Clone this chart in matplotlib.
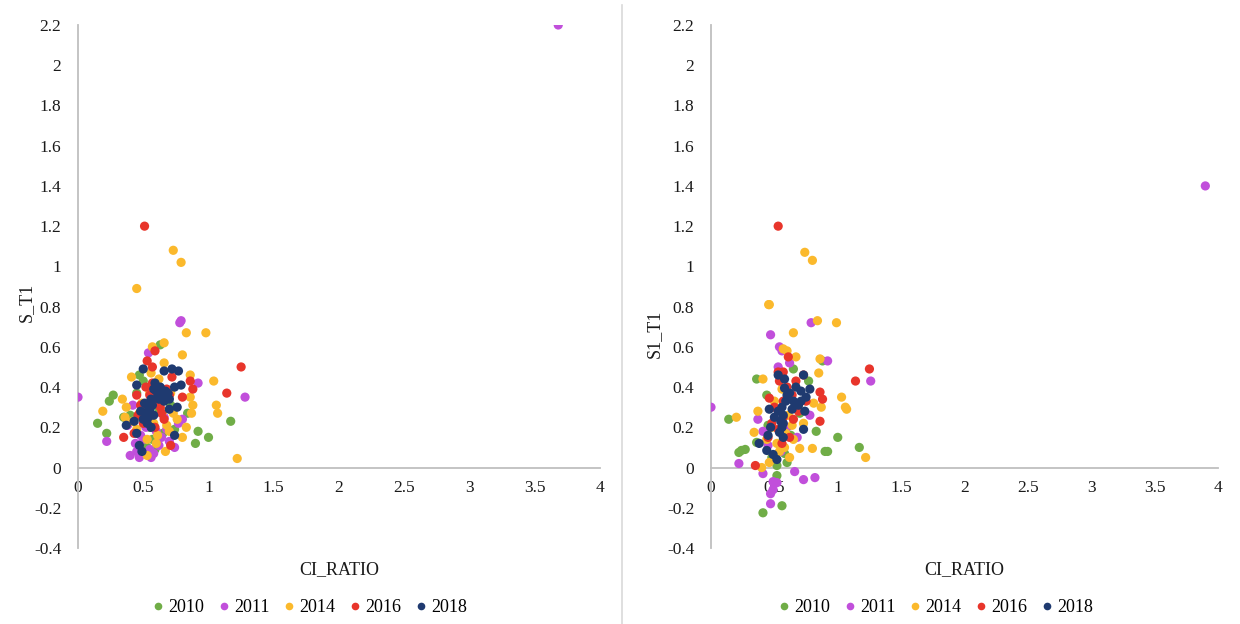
import matplotlib.pyplot as plt
from matplotlib.lines import Line2D

plt.rcParams['font.family'] = ['Liberation Serif', 'DejaVu Serif']

years = ['2010', '2011', '2014', '2016', '2018']
colors = ['#70AD47', '#C14FDB', '#FBB92C', '#E8352B', '#1F3A70']

# --- left panel: CI_RATIO vs S_T1 ---
l_x_2010 = [0.15, 0.22, 0.24, 0.27, 0.92, 0.90, 1.00, 1.17, 0.63, 0.47, 0.35, 0.59, 0.51, 0.84, 0.74, 0.45,
            0.55, 0.62, 0.40, 0.68, 0.57, 0.50, 0.43, 0.65, 0.53, 0.71]
l_y_2010 = [0.22, 0.17, 0.33, 0.36, 0.18, 0.12, 0.15, 0.23, 0.61, 0.46, 0.25, 0.09, 0.12, 0.27, 0.19, 0.37,
            0.20, 0.29, 0.26, 0.35, 0.14, 0.43, 0.24, 0.17, 0.10, 0.31]
l_x_2011 = [0.0, 0.79, 0.92, 1.28, 0.22, 0.40, 0.47, 0.56, 0.80, 0.77, 0.54, 0.74, 0.62, 0.38, 0.42, 3.68,
            0.78, 0.50, 0.60, 0.45, 0.66, 0.52, 0.70, 0.48, 0.58, 0.64, 0.44, 0.55, 0.68]
l_y_2011 = [0.35, 0.73, 0.42, 0.35, 0.13, 0.06, 0.05, 0.05, 0.24, 0.22, 0.57, 0.10, 0.11, 0.21, 0.31, 2.20,
            0.72, 0.14, 0.18, 0.08, 0.25, 0.20, 0.13, 0.16, 0.07, 0.15, 0.12, 0.09, 0.19]
l_x_2014 = [0.83, 0.98, 0.80, 0.66, 0.57, 0.66, 0.41, 0.19, 0.34, 0.37, 0.36, 0.86, 0.86, 0.88, 0.87, 1.04,
            1.06, 1.07, 0.83, 0.80, 1.22, 0.67, 0.53, 0.61, 0.73, 0.65, 0.53, 0.45, 0.73, 0.79, 0.45,
            0.58, 0.70, 0.49, 0.62, 0.55, 0.76, 0.47, 0.60, 0.68, 0.42, 0.56, 0.71, 0.51]
l_y_2014 = [0.67, 0.67, 0.56, 0.62, 0.60, 0.52, 0.45, 0.28, 0.34, 0.30, 0.25, 0.46, 0.35, 0.31, 0.27, 0.43,
            0.31, 0.27, 0.20, 0.15, 0.045, 0.08, 0.06, 0.16, 0.27, 0.28, 0.14, 0.19, 1.08, 1.02, 0.89,
            0.22, 0.18, 0.32, 0.44, 0.37, 0.24, 0.27, 0.12, 0.21, 0.23, 0.47, 0.37, 0.25]
l_x_2016 = [0.51, 1.25, 1.14, 0.80, 0.35, 0.43, 0.71, 0.88, 0.86, 0.59, 0.53, 0.57, 0.72, 0.45, 0.66, 0.53,
            0.61, 0.57, 0.68, 0.50, 0.63, 0.48, 0.55, 0.64, 0.59, 0.52, 0.70, 0.46]
l_y_2016 = [1.20, 0.50, 0.37, 0.35, 0.15, 0.17, 0.11, 0.39, 0.43, 0.58, 0.53, 0.50, 0.45, 0.36, 0.24, 0.28,
            0.33, 0.42, 0.39, 0.22, 0.30, 0.31, 0.36, 0.27, 0.20, 0.40, 0.36, 0.26]
l_x_2018 = [0.50, 0.45, 0.66, 0.72, 0.77, 0.79, 0.74, 0.70, 0.76, 0.37, 0.43, 0.48, 0.53, 0.56, 0.58, 0.63,
            0.67, 0.58, 0.54, 0.47, 0.49, 0.74, 0.62, 0.70, 0.53, 0.60, 0.45, 0.51, 0.55, 0.64,
            0.57, 0.61, 0.52, 0.59, 0.66, 0.69, 0.50, 0.56]
l_y_2018 = [0.49, 0.41, 0.48, 0.49, 0.48, 0.41, 0.40, 0.34, 0.30, 0.21, 0.23, 0.28, 0.31, 0.34, 0.39, 0.40,
            0.38, 0.26, 0.25, 0.11, 0.08, 0.16, 0.34, 0.29, 0.22, 0.38, 0.17, 0.32, 0.29, 0.36,
            0.31, 0.35, 0.27, 0.42, 0.33, 0.37, 0.24, 0.20]

# --- right panel: CI_RATIO vs S1_T1 ---
r_x_2010 = [0.14, 0.22, 0.27, 0.36, 0.41, 0.56, 0.52, 1.00, 1.17, 0.90, 0.92, 0.83, 0.77, 0.65, 0.44, 0.36,
            0.52, 0.60, 0.45, 0.88, 0.24, 0.55, 0.48, 0.63, 0.58, 0.70]
r_y_2010 = [0.24, 0.075, 0.09, 0.44, -0.225, -0.19, -0.04, 0.15, 0.10, 0.08, 0.08, 0.18, 0.43, 0.49, 0.36,
            0.125, 0.01, 0.025, 0.21, 0.53, 0.085, 0.12, 0.05, 0.16, 0.07, 0.27]
r_x_2011 = [0.0, 0.47, 0.79, 0.92, 1.26, 0.22, 0.41, 0.66, 0.73, 0.82, 0.49, 0.47, 0.47, 0.50, 0.54, 0.56,
            0.62, 0.53, 0.37, 0.41, 0.78, 0.52, 3.90, 0.45, 0.60, 0.68, 0.55, 0.49]
r_y_2011 = [0.30, 0.66, 0.72, 0.53, 0.43, 0.02, -0.03, -0.02, -0.06, -0.05, -0.07, -0.13, -0.18, -0.08,
            0.60, 0.58, 0.52, 0.50, 0.24, 0.18, 0.26, -0.075, 1.40, 0.11, 0.20, 0.15, 0.08, -0.11]
r_x_2014 = [0.46, 0.84, 0.99, 0.65, 0.57, 0.60, 0.67, 0.86, 0.85, 1.03, 1.06, 1.07, 0.87, 0.81, 0.20, 0.34,
            0.37, 0.41, 1.22, 0.80, 0.70, 0.46, 0.40, 0.62, 0.52, 0.56, 0.50, 0.73, 0.65, 0.58, 0.74,
            0.80, 0.455, 0.48, 0.61, 0.69, 0.54, 0.44, 0.64, 0.59]
r_y_2014 = [0.81, 0.73, 0.72, 0.67, 0.59, 0.58, 0.55, 0.54, 0.47, 0.35, 0.30, 0.29, 0.30, 0.32, 0.25, 0.175,
            0.28, 0.44, 0.05, 0.095, 0.095, 0.025, 0.0, 0.05, 0.12, 0.39, 0.33, 0.22, 0.14, 0.10, 1.07,
            1.03, 0.81, 0.20, 0.26, 0.31, 0.08, 0.14, 0.21, 0.17]
r_x_2016 = [0.53, 1.25, 1.14, 0.86, 0.88, 0.86, 0.35, 0.61, 0.53, 0.57, 0.73, 0.67, 0.46, 0.57, 0.65, 0.53,
            0.62, 0.45, 0.54, 0.75, 0.57, 0.50, 0.60, 0.69, 0.48, 0.64, 0.56]
r_y_2016 = [1.20, 0.49, 0.43, 0.375, 0.34, 0.23, 0.01, 0.55, 0.475, 0.475, 0.46, 0.43, 0.345, 0.33, 0.24,
            0.19, 0.15, 0.15, 0.43, 0.33, 0.25, 0.30, 0.40, 0.28, 0.22, 0.36, 0.12]
r_x_2018 = [0.53, 0.58, 0.73, 0.58, 0.60, 0.67, 0.71, 0.78, 0.75, 0.71, 0.65, 0.64, 0.74, 0.73, 0.46, 0.56,
            0.57, 0.50, 0.57, 0.47, 0.45, 0.57, 0.38, 0.44, 0.49, 0.52, 0.54, 0.55, 0.59, 0.62, 0.53,
            0.56, 0.69]
r_y_2018 = [0.46, 0.44, 0.46, 0.395, 0.36, 0.40, 0.38, 0.39, 0.35, 0.33, 0.33, 0.29, 0.28, 0.19, 0.29, 0.30,
            0.26, 0.25, 0.22, 0.20, 0.16, 0.15, 0.12, 0.085, 0.065, 0.04, 0.175, 0.23, 0.33, 0.37, 0.28,
            0.20, 0.31]

left_data = [(l_x_2010, l_y_2010), (l_x_2011, l_y_2011), (l_x_2014, l_y_2014),
             (l_x_2016, l_y_2016), (l_x_2018, l_y_2018)]
right_data = [(r_x_2010, r_y_2010), (r_x_2011, r_y_2011), (r_x_2014, r_y_2014),
              (r_x_2016, r_y_2016), (r_x_2018, r_y_2018)]

fig = plt.figure(figsize=(12.4, 6.24), dpi=100)
ax1 = fig.add_axes([78 / 1240, 76 / 624, 522 / 1240, 523 / 624])
ax2 = fig.add_axes([711 / 1240, 76 / 624, 507 / 1240, 523 / 624])


def style_axis(ax, data, ylabel, ylab_pos):
    for (xs, ys), c in zip(data, colors):
        ax.scatter(xs, ys, s=44, color=c, edgecolors='none', zorder=3)
    ax.set_xlim(0, 4)
    ax.set_ylim(-0.4, 2.2)
    ax.set_xticks([0, 0.5, 1, 1.5, 2, 2.5, 3, 3.5, 4])
    ax.set_xticklabels(['0', '0.5', '1', '1.5', '2', '2.5', '3', '3.5', '4'])
    ax.set_yticks([-0.4, -0.2, 0, 0.2, 0.4, 0.6, 0.8, 1, 1.2, 1.4, 1.6, 1.8, 2, 2.2])
    ax.set_yticklabels(['-0.4', '-0.2', '0', '0.2', '0.4', '0.6', '0.8', '1', '1.2', '1.4',
                        '1.6', '1.8', '2', '2.2'])
    ax.spines['top'].set_visible(False)
    ax.spines['right'].set_visible(False)
    ax.spines['left'].set_position(('data', 0))
    ax.spines['bottom'].set_position(('data', 0))
    for sp in ('left', 'bottom'):
        ax.spines[sp].set_color('#BFBFBF')
        ax.spines[sp].set_linewidth(1.3)
    ax.tick_params(axis='both', length=0, labelsize=12.5, colors='#1a1a1a')
    ax.tick_params(axis='y', pad=12)
    ax.tick_params(axis='x', pad=9)
    ax.set_xlabel('CI_RATIO', fontsize=13, color='#1a1a1a')
    ax.xaxis.set_label_coords(0.5, -0.025)
    ax.set_ylabel(ylabel, fontsize=13, color='#1a1a1a')
    ax.yaxis.set_label_coords(*ylab_pos)
    ax.patch.set_alpha(0)


style_axis(ax1, left_data, 'S_T1', (-0.082, 0.47))
style_axis(ax2, right_data, 'S1_T1', (-0.095, 0.41))

# separator between the two charts
fig.add_artist(Line2D([622 / 1240, 622 / 1240], [0, 1 - 5 / 624], color='#D9D9D9', lw=1.2))

handles = [Line2D([], [], marker='o', linestyle='none', markersize=5.5, color=c, markeredgewidth=0)
           for c in colors]
for cx in (308 / 1240, 934 / 1240):
    fig.legend(handles, years, loc='center', bbox_to_anchor=(cx, 16 / 624), ncol=5, frameon=False,
               fontsize=13, handletextpad=0.05, columnspacing=0.6, handlelength=1.0)

fig.savefig('out.png', dpi=100)
